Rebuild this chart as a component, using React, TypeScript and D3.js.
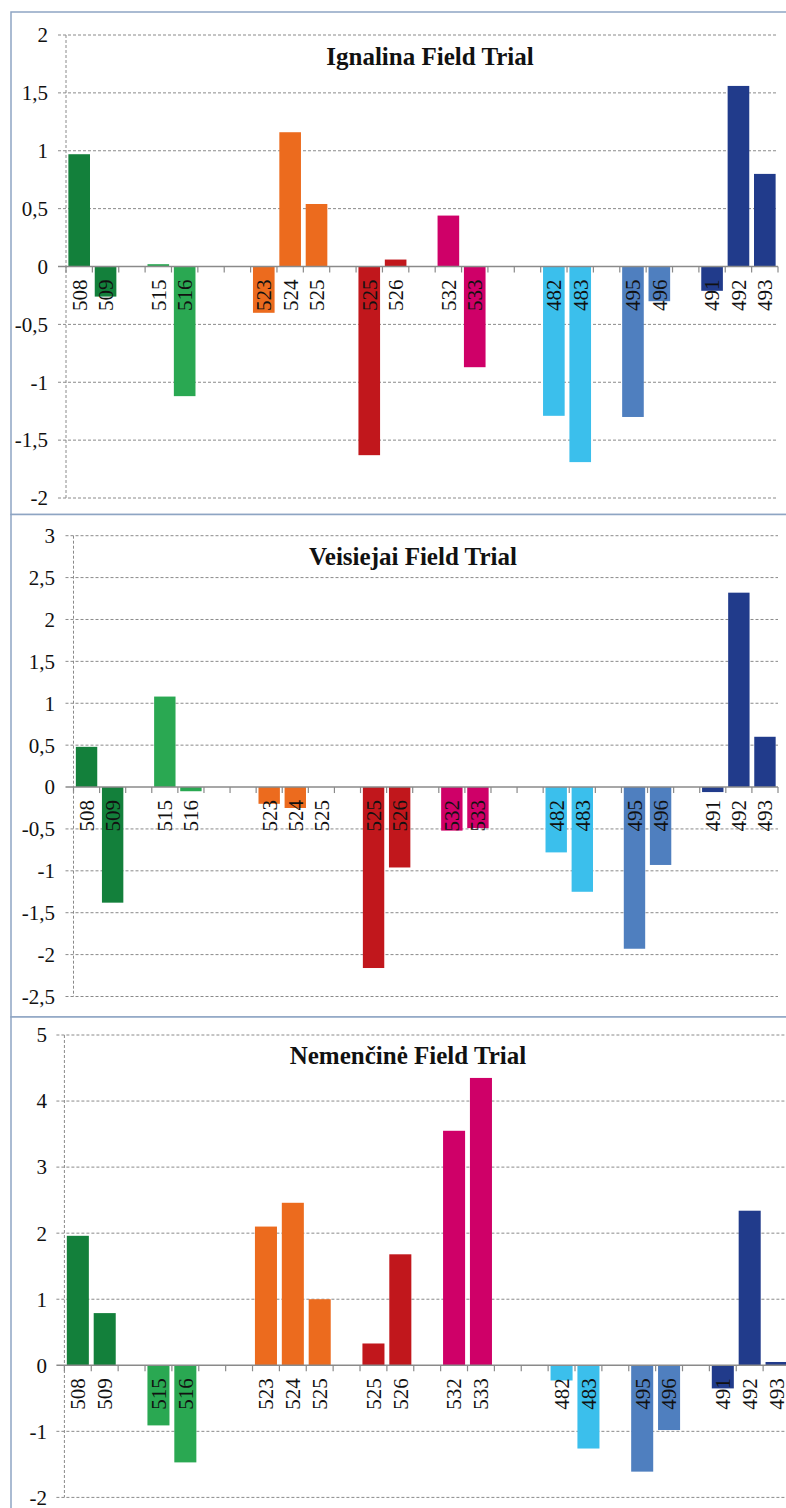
import React from "react";
import * as d3 from "d3";

const categories = ["508","509","","515","516","","","523","524","525","","525","526","","532","533","","","482","483","","495","496","","491","492","493"];
const groupColors = ["#13803b","#13803b","","#2aa852","#2aa852","","","#ec6b1e","#ec6b1e","#ec6b1e","","#c1171c","#c1171c","","#cf0068","#cf0068","","","#3bbfec","#3bbfec","","#4f7fbf","#4f7fbf","","#213b8b","#213b8b","#213b8b"];

const ignalinaValues = [0.97,-0.26,null,0.02,-1.12,null,null,-0.40,1.16,0.54,null,-1.63,0.06,null,0.44,-0.87,null,null,-1.29,-1.69,null,-1.30,-0.30,null,-0.21,1.56,0.80];
const veisiejaiValues = [0.48,-1.38,null,1.08,-0.05,null,null,-0.20,-0.25,0,null,-2.16,-0.96,null,-0.52,-0.49,null,null,-0.78,-1.25,null,-1.93,-0.93,null,-0.06,2.32,0.60];
const nemencineValues = [1.96,0.79,null,-0.91,-1.47,null,null,2.10,2.46,1.00,null,0.33,1.68,null,3.55,4.35,null,null,-0.23,-1.26,null,-1.61,-0.98,null,-0.35,2.34,0.05];

const ignalinaTicks = [2,1.5,1,0.5,0,-0.5,-1,-1.5,-2];
const veisiejaiTicks = [3,2.5,2,1.5,1,0.5,0,-0.5,-1,-1.5,-2,-2.5];
const nemencineTicks = [5,4,3,2,1,0,-1,-2];

const titles = ["Ignalina Field Trial","Veisiejai Field Trial","Nemenčinė Field Trial"];

const FONT = "'Liberation Serif', 'Times New Roman', serif";

type Layout = { fy: number; fh: number; x0: number; x1: number; yTop: number; yBot: number; labelRight: number; titleX: number; titleY: number };

const layouts: Layout[] = [
  { fy: 12, fh: 502.5, x0: 66, x1: 778, yTop: 35, yBot: 498, labelRight: 48, titleX: 430, titleY: 65 },
  { fy: 514.5, fh: 502.5, x0: 73.5, x1: 778, yTop: 535.7, yBot: 996.5, labelRight: 55, titleX: 413, titleY: 565 },
  { fy: 1017, fh: 520, x0: 64.4, x1: 790, yTop: 1035, yBot: 1497.4, labelRight: 47, titleX: 408, titleY: 1064 },
];

const fmt = (v: number) => String(v).replace(".", ",");

function Panel({ values, ticks, title, L }: { values: (number | null)[]; ticks: number[]; title: string; L: Layout }) {
  const y = d3.scaleLinear().domain([d3.min(ticks)!, d3.max(ticks)!]).range([L.yBot, L.yTop]);
  const idx = categories.map((_, i) => i);
  const x = d3.scaleBand<number>().domain(idx).range([L.x0, L.x1]).paddingInner(0.18).paddingOuter(0.09);
  const step = x.step();
  const y0 = y(0);
  return (
    <g>
      <rect x={11} y={L.fy} width={800} height={L.fh} fill="#fff" stroke="#8ea5c3" strokeWidth={1.5} />
      {ticks.filter(t => t !== 0).map(t => (
        <line key={"g" + t} x1={L.x0 - 8} x2={L.x1} y1={y(t)} y2={y(t)} stroke="#8a8a8a" strokeWidth={1} strokeDasharray="3,2" />
      ))}
      <line x1={L.x0} x2={L.x0} y1={L.yTop} y2={L.yBot} stroke="#8a8a8a" strokeWidth={1} strokeDasharray="3,2" />
      <text x={L.titleX} y={L.titleY} textAnchor="middle" fontFamily={FONT} fontWeight="bold" fontSize={25} fill="#111">{title}</text>
      {values.map((v, i) => v === null || v === 0 ? null : (
        <rect key={"b" + i} x={x(i)} width={x.bandwidth()} y={Math.min(y(v), y0)} height={Math.abs(y(v) - y0)} fill={groupColors[i]} />
      ))}
      <line x1={L.x0 - 8} x2={L.x1} y1={y0} y2={y0} stroke="#8a8a8a" strokeWidth={1.5} />
      {d3.range(categories.length + 1).map(i => (
        <line key={"t" + i} x1={L.x0 + i * step} x2={L.x0 + i * step} y1={y0} y2={y0 + 6} stroke="#8a8a8a" strokeWidth={1.2} />
      ))}
      {ticks.map(t => (
        <text key={"l" + t} x={L.labelRight} y={y(t)} dy="0.35em" textAnchor="end" fontFamily={FONT} fontSize={21} fill="#111">{fmt(t)}</text>
      ))}
      {categories.map((c, i) => c === "" ? null : (
        <text key={"c" + i} transform={`translate(${x(i)! + x.bandwidth() / 2},${y0 + 13}) rotate(-90)`} dy="0.35em" textAnchor="end" fontFamily={FONT} fontSize={21} fill="#111">{c}</text>
      ))}
    </g>
  );
}

export default function App() {
  const data = [ignalinaValues, veisiejaiValues, nemencineValues];
  const tickSets = [ignalinaTicks, veisiejaiTicks, nemencineTicks];
  return (
    <div style={{ position: "absolute", left: 0, top: 0 }}>
      <svg width={786} height={1508} style={{ display: "block", background: "#fff" }}>
        <rect x={0} y={0} width={786} height={1508} fill="#fff" />
        {layouts.map((L, k) => (
          <Panel key={k} values={data[k]} ticks={tickSets[k]} title={titles[k]} L={L} />
        ))}
      </svg>
    </div>
  );
}
